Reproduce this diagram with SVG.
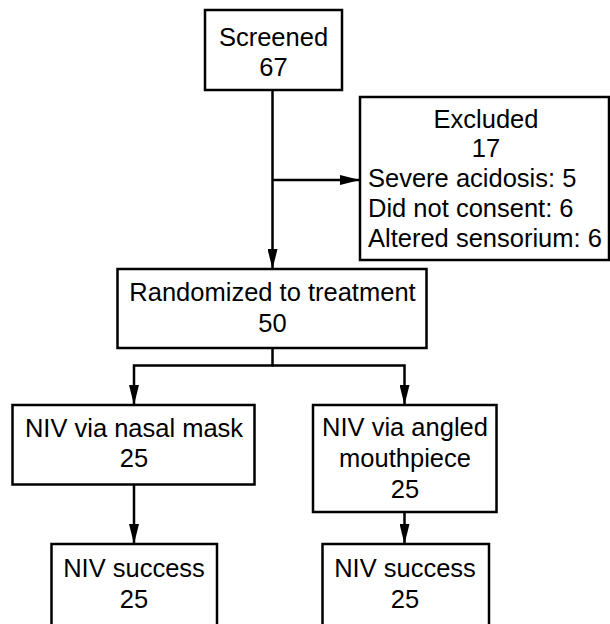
<svg xmlns="http://www.w3.org/2000/svg" width="610" height="624" viewBox="0 0 610 624">
<style>
  .box { fill: #ffffff; stroke: #000000; stroke-width: 2.5; }
  .t { font-family: "Liberation Sans", Arial, sans-serif; font-size: 25.5px; fill: #000000; }
  .c { text-anchor: middle; }
  .edge { fill: none; stroke: #000000; stroke-width: 2.5; }
</style>
<defs>
  <marker id="ah" markerUnits="userSpaceOnUse" markerWidth="20" markerHeight="10" refX="20" refY="5" orient="auto">
    <path d="M0,0 L20,5 L0,10 z" fill="#000000"/>
  </marker>
</defs>
<rect width="610" height="624" fill="#ffffff"/>
<g id="connectors">
  <path class="edge" d="M272.5,90 V269" marker-end="url(#ah)"/>
  <path class="edge" d="M272.5,180 H360" marker-end="url(#ah)"/>
  <path class="edge" d="M272.5,348 V365.5 H134 V405" marker-end="url(#ah)"/>
  <path class="edge" d="M272.5,365.5 H404.5 V405" marker-end="url(#ah)"/>
  <path class="edge" d="M134,484.5 V544" marker-end="url(#ah)"/>
  <path class="edge" d="M404.5,512 V544" marker-end="url(#ah)"/>
</g>
<g id="screened">
  <rect class="box" x="205" y="10" width="137" height="80"/>
  <text class="t c" x="273.5" y="45.5">Screened</text>
  <text class="t c" x="273.5" y="76">67</text>
</g>
<g id="excluded">
  <rect class="box" x="360" y="97" width="249" height="163"/>
  <text class="t c" x="486" y="127.5">Excluded</text>
  <text class="t c" x="486" y="156.5">17</text>
  <text class="t" x="368" y="186.5">Severe acidosis: 5</text>
  <text class="t" x="368" y="216.5">Did not consent: 6</text>
  <text class="t" x="368" y="246.5">Altered sensorium: 6</text>
</g>
<g id="randomized">
  <rect class="box" x="117.5" y="269" width="309" height="79"/>
  <text class="t c" x="272.5" y="300.5">Randomized to treatment</text>
  <text class="t c" x="272.5" y="332">50</text>
</g>
<g id="nasal">
  <rect class="box" x="12.5" y="405" width="242" height="79.5"/>
  <text class="t c" x="134" y="436.5">NIV via nasal mask</text>
  <text class="t c" x="134" y="466.5">25</text>
</g>
<g id="mouthpiece">
  <rect class="box" x="313" y="405" width="183.5" height="107"/>
  <text class="t c" x="405" y="436">NIV via angled</text>
  <text class="t c" x="405" y="466.5">mouthpiece</text>
  <text class="t c" x="405" y="498">25</text>
</g>
<g id="success-nasal">
  <rect class="box" x="51.5" y="544" width="165.5" height="90"/>
  <text class="t c" x="134" y="576.5">NIV success</text>
  <text class="t c" x="134" y="608">25</text>
</g>
<g id="success-mouthpiece">
  <rect class="box" x="322.5" y="544" width="166.5" height="90"/>
  <text class="t c" x="405" y="576.5">NIV success</text>
  <text class="t c" x="405" y="608">25</text>
</g>
</svg>
